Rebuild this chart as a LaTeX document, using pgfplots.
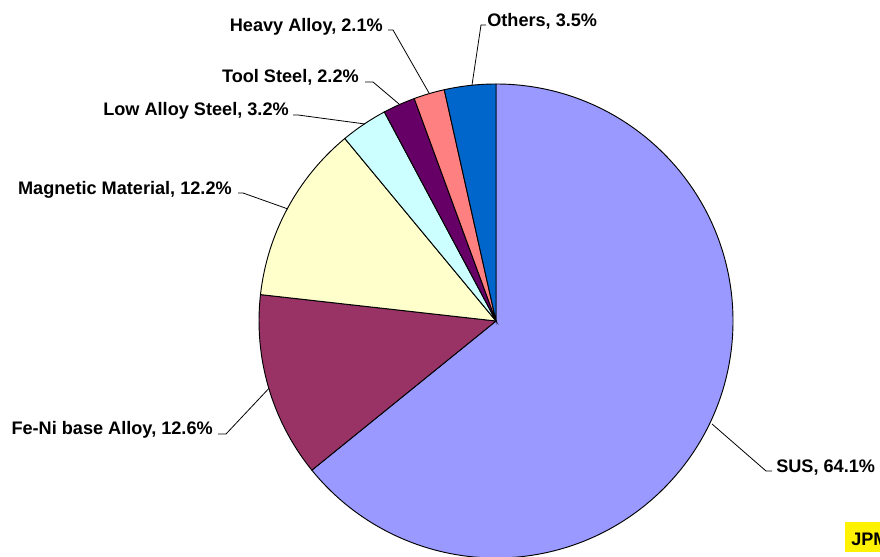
\documentclass[border=0pt]{standalone}
\usepackage{pgfplots}
\pgfplotsset{compat=1.18}
\usepackage{fontspec}
\setmainfont{Liberation Sans}
\definecolor{csus}{HTML}{9999FF}
\definecolor{cfeni}{HTML}{993366}
\definecolor{cmag}{HTML}{FFFFCC}
\definecolor{clow}{HTML}{CCFFFF}
\definecolor{ctool}{HTML}{660066}
\definecolor{cheavy}{HTML}{FF8080}
\definecolor{cother}{HTML}{0066CC}
\tikzset{lbl/.style={font=\bfseries\fontsize{13.6}{16}\selectfont, inner sep=0pt}}
\begin{document}
\begin{tikzpicture}
% shares in percent
\def\vSUS{64.1}\def\vFeNi{12.6}\def\vMag{12.2}\def\vLow{3.2}\def\vTool{2.2}\def\vHeavy{2.1}\def\vOther{3.5}
\pgfmathsetmacro\tot{\vSUS+\vFeNi+\vMag+\vLow+\vTool+\vHeavy+\vOther}
\pgfmathsetmacro\aA{90}
\pgfmathsetmacro\aB{\aA-\vSUS/\tot*360}
\pgfmathsetmacro\aC{\aB-\vFeNi/\tot*360}
\pgfmathsetmacro\aD{\aC-\vMag/\tot*360}
\pgfmathsetmacro\aE{\aD-\vLow/\tot*360}
\pgfmathsetmacro\aF{\aE-\vTool/\tot*360}
\pgfmathsetmacro\aG{\aF-\vHeavy/\tot*360}
\pgfmathsetmacro\aH{\aG-\vOther/\tot*360}
\def\R{177.75pt}
\begin{axis}[at={(0,0)}, anchor=south west, scale only axis,
  width=660pt, height=417pt, xmin=0, xmax=880, ymin=0, ymax=556,
  hide axis, clip=false]
\filldraw[fill=csus, draw=black, line width=0.7pt] (axis cs:496,235) -- ++(\aA:\R) arc[start angle=\aA, end angle=\aB, radius=\R] -- cycle;
\filldraw[fill=cfeni, draw=black, line width=0.7pt] (axis cs:496,235) -- ++(\aB:\R) arc[start angle=\aB, end angle=\aC, radius=\R] -- cycle;
\filldraw[fill=cmag, draw=black, line width=0.7pt] (axis cs:496,235) -- ++(\aC:\R) arc[start angle=\aC, end angle=\aD, radius=\R] -- cycle;
\filldraw[fill=clow, draw=black, line width=0.7pt] (axis cs:496,235) -- ++(\aD:\R) arc[start angle=\aD, end angle=\aE, radius=\R] -- cycle;
\filldraw[fill=ctool, draw=black, line width=0.7pt] (axis cs:496,235) -- ++(\aE:\R) arc[start angle=\aE, end angle=\aF, radius=\R] -- cycle;
\filldraw[fill=cheavy, draw=black, line width=0.7pt] (axis cs:496,235) -- ++(\aF:\R) arc[start angle=\aF, end angle=\aG, radius=\R] -- cycle;
\filldraw[fill=cother, draw=black, line width=0.7pt] (axis cs:496,235) -- ++(\aG:\R) arc[start angle=\aG, end angle=\aH, radius=\R] -- cycle;
% leader lines
\draw[line width=0.6pt] (axis cs:712,132) -- (axis cs:766,85) -- (axis cs:772,85);
\draw[line width=0.6pt] (axis cs:268.8,167.5) -- (axis cs:226,122) -- (axis cs:218,122);
\draw[line width=0.6pt] (axis cs:288,347) -- (axis cs:243,363) -- (axis cs:238,363);
\draw[line width=0.6pt] (axis cs:365,432) -- (axis cs:298,441) -- (axis cs:293,441);
\draw[line width=0.6pt] (axis cs:399,452) -- (axis cs:373,474) -- (axis cs:365,474);
\draw[line width=0.6pt] (axis cs:429,463) -- (axis cs:393,526) -- (axis cs:388,526);
\draw[line width=0.6pt] (axis cs:472,471) -- (axis cs:481,531) -- (axis cs:486,531);
% labels
\node[lbl, anchor=base west] at (axis cs:776,83) {SUS, 64.1\%};
\node[lbl, anchor=base east] at (axis cs:213,121) {Fe-Ni base Alloy, 12.6\%};
\node[lbl, anchor=base east] at (axis cs:232,361) {Magnetic Material, 12.2\%};
\node[lbl, anchor=base east] at (axis cs:289,440) {Low Alloy Steel, 3.2\%};
\node[lbl, anchor=base east] at (axis cs:359,473) {Tool Steel, 2.2\%};
\node[lbl, anchor=base east] at (axis cs:383,524) {Heavy Alloy, 2.1\%};
\node[lbl, anchor=base west] at (axis cs:487,529) {Others, 3.5\%};
\fill[yellow] (axis cs:845,4) rectangle (axis cs:920,34);
\node[lbl, anchor=base west] at (axis cs:851,11) {JPM};
\end{axis}
\pgfresetboundingbox
\path[use as bounding box] (0,0) rectangle (660pt,417pt);
\end{tikzpicture}
\end{document}
